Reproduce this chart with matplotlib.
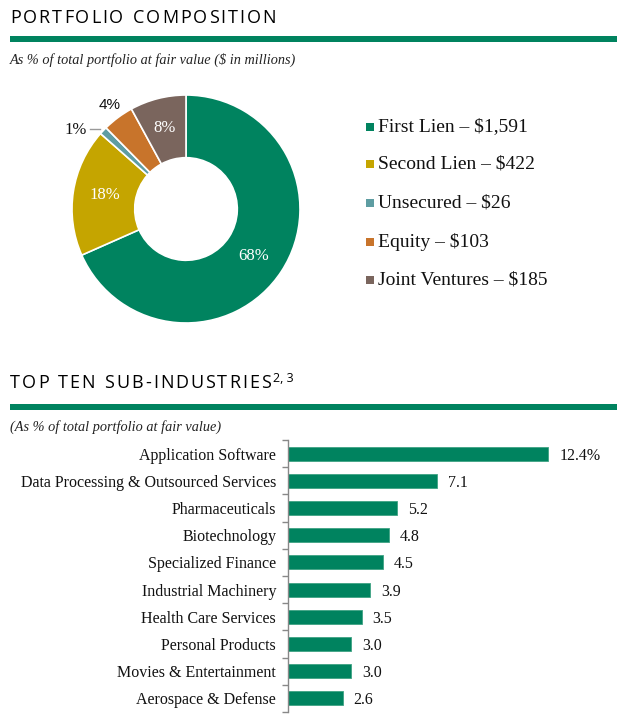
import matplotlib
matplotlib.use("Agg")
import matplotlib.pyplot as plt
from matplotlib.patches import Rectangle
from matplotlib.lines import Line2D

# ---- data ----
asset_types = ["First Lien", "Second Lien", "Unsecured", "Equity", "Joint Ventures"]
asset_values = [1591, 422, 26, 103, 185]
asset_pcts = ["68%", "18%", "1%", "4%", "8%"]
asset_colors = ["#00835F", "#C5A500", "#5E9DA2", "#C8742B", "#7A655D"]

industries = [
    "Application Software",
    "Data Processing & Outsourced Services",
    "Pharmaceuticals",
    "Biotechnology",
    "Specialized Finance",
    "Industrial Machinery",
    "Health Care Services",
    "Personal Products",
    "Movies & Entertainment",
    "Aerospace & Defense",
]
industry_pcts = [12.4, 7.1, 5.2, 4.8, 4.5, 3.9, 3.5, 3.0, 3.0, 2.6]

GREEN = "#00835F"
W, H = 628, 720
SERIF = "Liberation Serif"
SANS = "Open Sans"

fig = plt.figure(figsize=(W / 100, H / 100), dpi=100)


def fx(x):
    return x / W


def fy(y):
    return 1 - y / H


def spaced_text(x, y, s, size, track=2.0):
    # header text with a little letter spacing, drawn char by char
    renderer = fig.canvas.get_renderer()
    for ch in s:
        t = fig.text(fx(x), fy(y), ch, fontsize=size, family=SANS,
                     va="center", ha="left", color="black")
        if ch == " ":
            x += size * 0.55
        else:
            x += t.get_window_extent(renderer).width + track
    return x


def header(title, sup, y_title, y_rule, subtitle, y_sub):
    x_end = spaced_text(10, y_title, title, 13)
    if sup:
        fig.text(fx(x_end), fy(y_title - 5), sup, fontsize=9,
                 family=SANS, va="center", ha="left", color="black")
    fig.add_artist(Rectangle((fx(10), fy(y_rule + 3)), fx(607), 6 / H,
                             transform=fig.transFigure, color=GREEN, lw=0))
    fig.text(fx(10), fy(y_sub), subtitle, fontsize=10.3, family=SERIF,
             style="italic", va="center", ha="left", color="#222222")


header("PORTFOLIO COMPOSITION", None, 18, 39,
       "As % of total portfolio at fair value ($ in millions)", 60)
header("TOP TEN SUB-INDUSTRIES", "2, 3", 383, 407,
       "(As % of total portfolio at fair value)", 427)

# ---- donut ----
cx, cy, r = 186, 209, 114
ax1 = fig.add_axes([fx(cx - r), fy(cy + r), 2 * r / W, 2 * r / H])
wedges, _ = ax1.pie(asset_values, colors=asset_colors, startangle=90,
                    counterclock=False, radius=1,
                    wedgeprops=dict(width=0.55, edgecolor="white", linewidth=1.2))
ax1.set_xlim(-1, 1)
ax1.set_ylim(-1, 1)
ax1.set_aspect("equal")
ax1.axis("off")

pct_pos = [(254, 256, "white", SERIF), (105, 195, "white", SERIF),
           (76, 130, "#111111", SERIF), (110, 105, "#111111", "Liberation Sans"),
           (165, 128, "white", SERIF)]
for (px, py, c, fam), lbl in zip(pct_pos, asset_pcts):
    fig.text(fx(px), fy(py), lbl, fontsize=12 if fam == SERIF else 11,
             family=fam, color=c, ha="center", va="center")
fig.add_artist(Line2D([fx(90), fx(100)], [fy(129), fy(129)],
                      transform=fig.transFigure, color="#999999", lw=1))

# legend
leg_y = [127, 164, 203, 242, 280]
for yy, name, val, col in zip(leg_y, asset_types, asset_values, asset_colors):
    fig.add_artist(Rectangle((fx(366), fy(yy + 4)), 8 / W, 8 / H,
                             transform=fig.transFigure, color=col, lw=0))
    fig.text(fx(378), fy(yy), f"{name} \u2013 ${val:,}", fontsize=14,
             family=SERIF, color="#111111", ha="left", va="center")

# ---- bars ----
top, bot = 440, 712
ax2 = fig.add_axes([fx(288), fy(bot), (620 - 288) / W, (bot - top) / H])
n = len(industries)
ypos = list(range(n))
ax2.barh(ypos, industry_pcts, height=0.52, color=GREEN, edgecolor="#3FA383",
         linewidth=0.6)
ax2.set_xlim(0, (620 - 288) / 21.0)
ax2.set_ylim(n - 0.5, -0.5)
ax2.set_yticks(ypos)
ax2.set_yticklabels(industries, fontsize=11.5, family=SERIF, color="#111111")
ax2.set_yticks([i - 0.5 for i in range(n + 1)], minor=True)
ax2.tick_params(axis="y", which="major", length=0, pad=8.5)
ax2.tick_params(axis="y", which="minor", length=4, width=1, color="#888888",
                direction="out")
ax2.set_xticks([])
for s in ["top", "right", "bottom"]:
    ax2.spines[s].set_visible(False)
ax2.spines["left"].set_color("#888888")
ax2.spines["left"].set_linewidth(1)

for i, v in enumerate(industry_pcts):
    lbl = f"{v:.1f}%" if i == 0 else f"{v:.1f}"
    ax2.annotate(lbl, (v, i), xytext=(8, 0), textcoords="offset points",
                 fontsize=11.5, family=SERIF, color="#111111",
                 ha="left", va="center_baseline")

fig.savefig("out.png", dpi=100)
